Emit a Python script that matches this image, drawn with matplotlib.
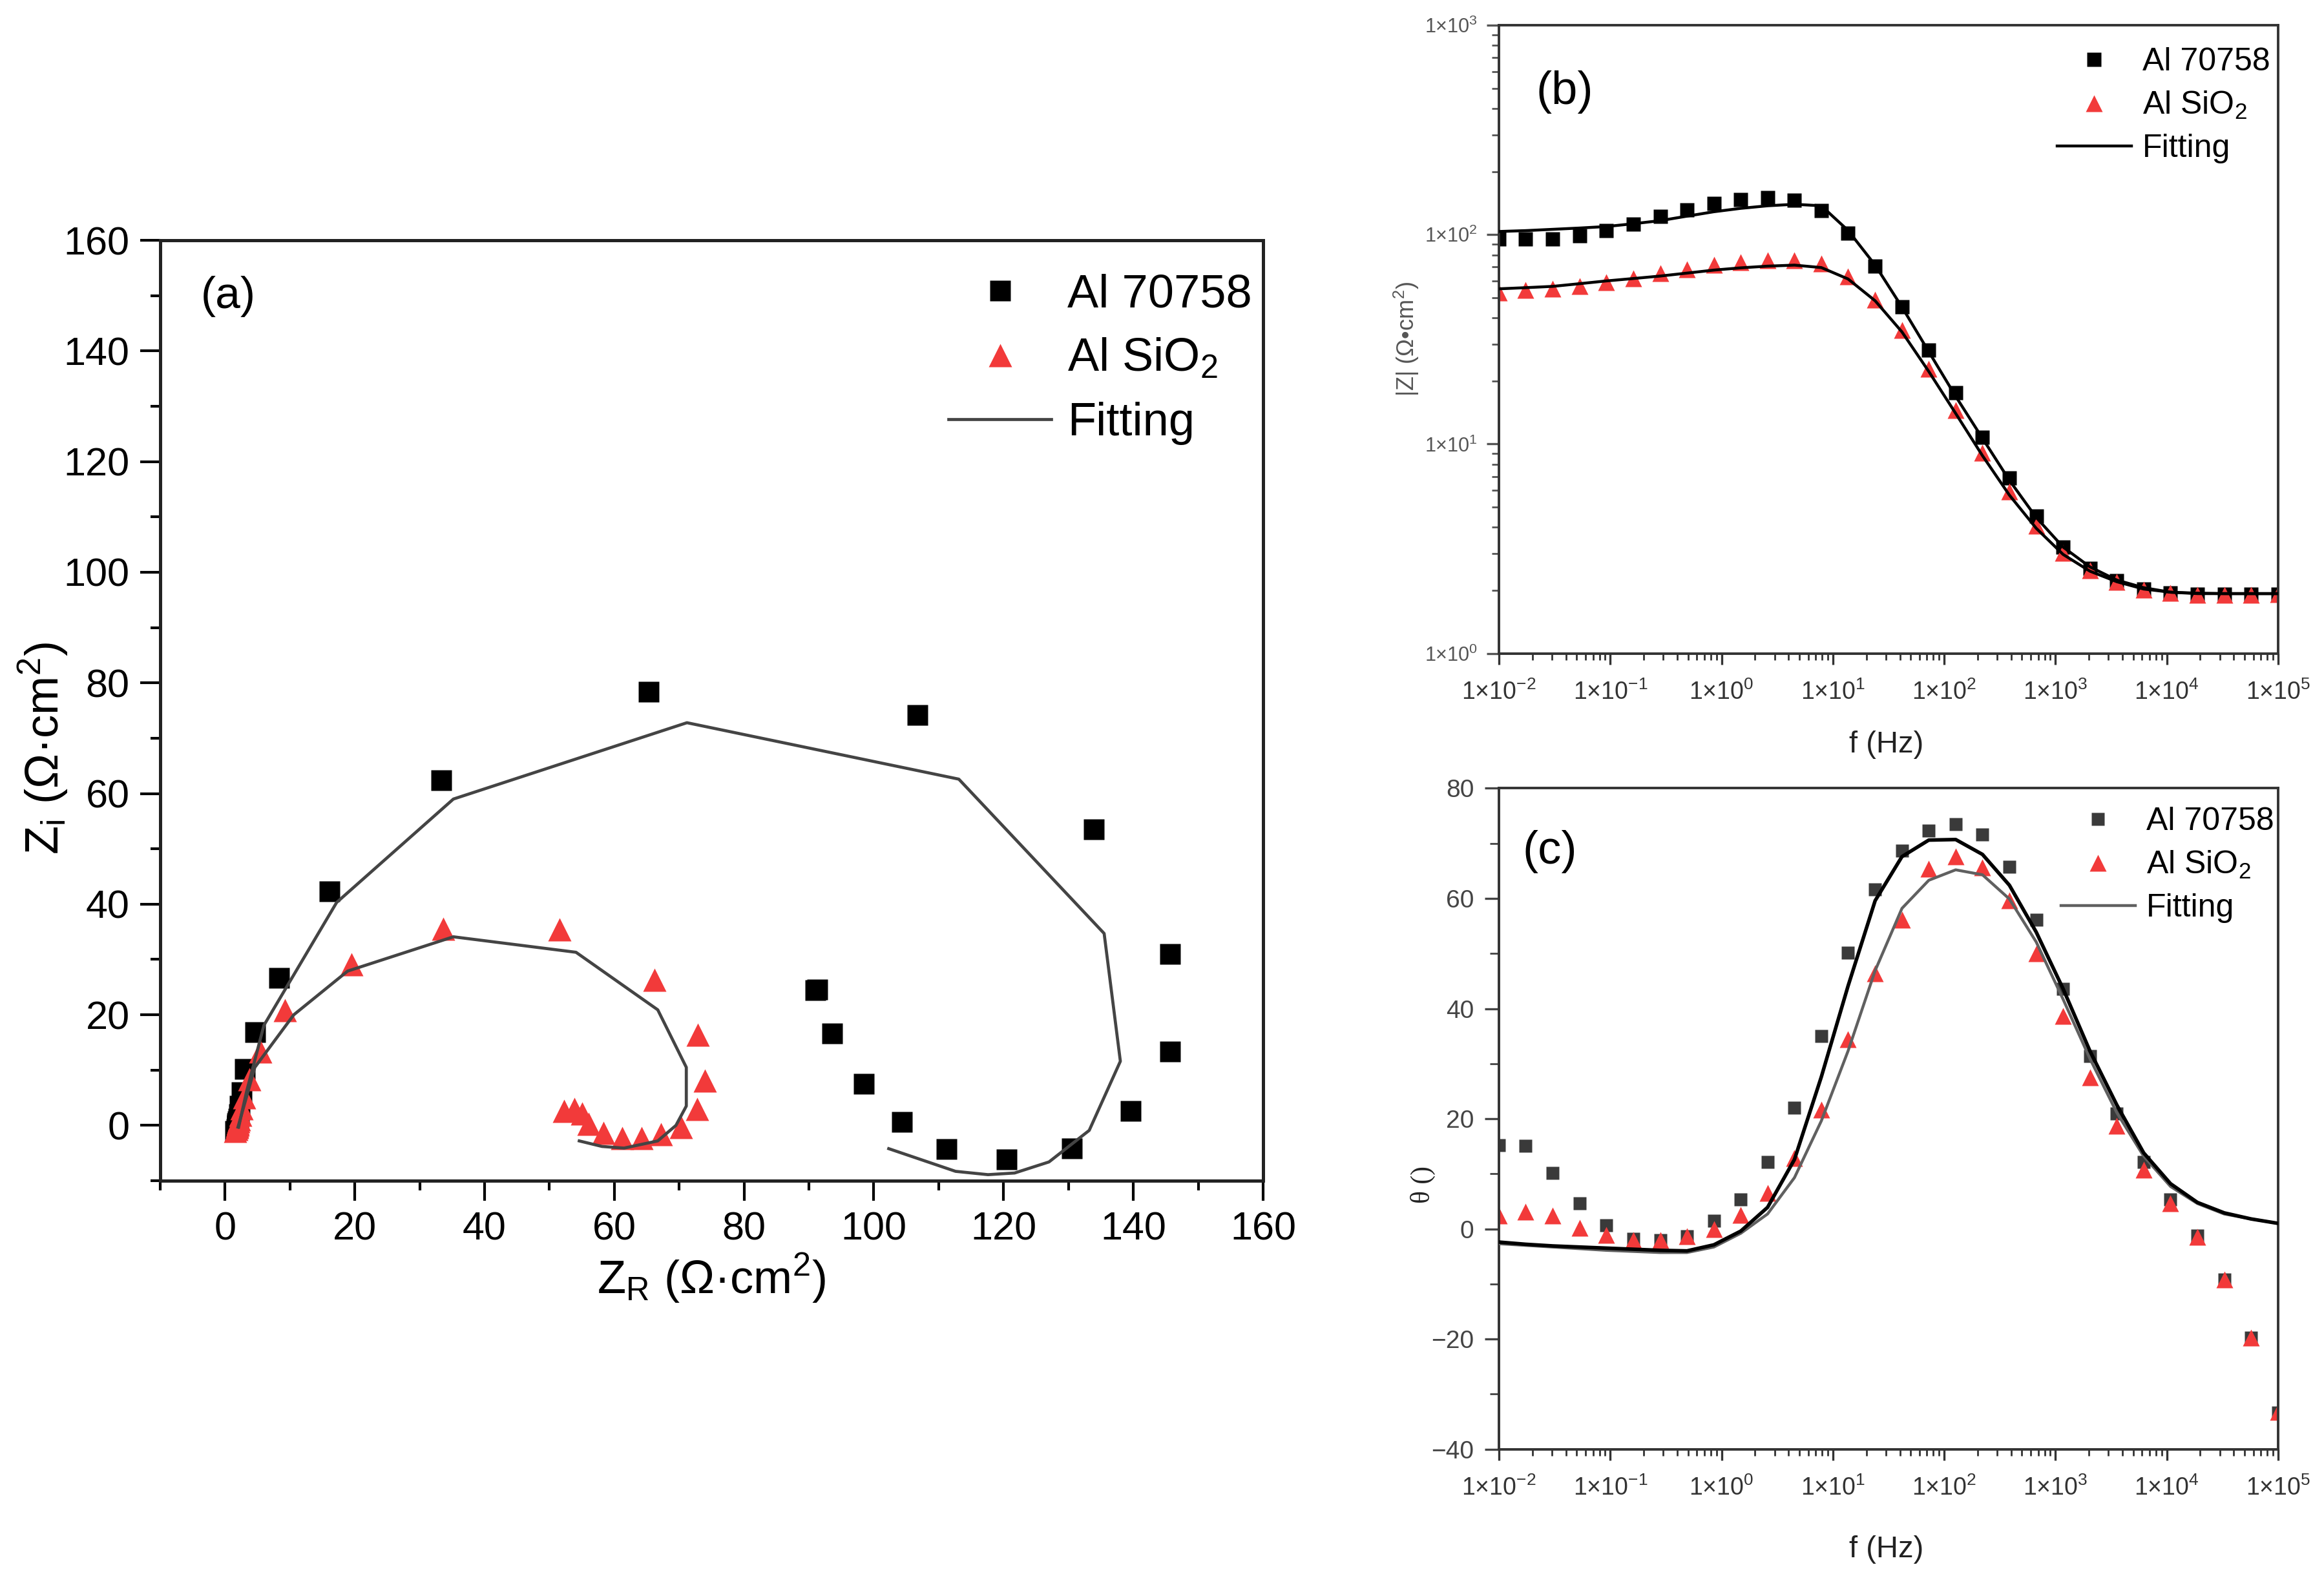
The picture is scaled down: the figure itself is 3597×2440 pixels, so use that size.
import numpy as np
import matplotlib.pyplot as plt
from matplotlib.ticker import MultipleLocator, LogLocator, FuncFormatter, NullFormatter

plt.rcParams['font.family'] = ['Liberation Sans', 'DejaVu Sans']
plt.rcParams['mathtext.fontset'] = 'custom'
plt.rcParams['mathtext.rm'] = 'Liberation Sans'
plt.rcParams['mathtext.it'] = 'Liberation Sans:italic'

# --- data ---
# frequencies (Hz), low -> high
freq = [0.01, 0.0174, 0.0304, 0.0530, 0.0924, 0.161, 0.281, 0.489, 0.853, 1.49,
        2.59, 4.52, 7.88, 13.7, 24.0, 41.8, 72.8, 127, 221, 386,
        672, 1172, 2043, 3562, 6210, 10826, 18874, 32903, 57362, 100000]

# (a) Nyquist, same order as freq
zr_7075 = [91.3, 91.0, 93.6, 98.5, 104.3, 111.2, 120.5, 130.5, 139.6, 145.7,
           145.7, 133.9, 106.7, 65.3, 33.3, 16.1, 8.3, 4.7, 3.1, 2.6,
           2.3, 2.2, 2.1, 2.0, 1.9, 1.9, 1.9, 1.9, 1.8, 1.6]
zi_7075 = [24.6, 24.4, 16.6, 7.5, 0.6, -4.3, -6.1, -4.2, 2.6, 13.4,
           31.0, 53.5, 74.2, 78.4, 62.4, 42.3, 26.7, 16.9, 10.2, 6.0,
           3.5, 2.0, 1.2, 0.7, 0.4, 0.1, -0.1, -0.3, -0.6, -1.0]
zr_sio2 = [52.3, 53.8, 55.0, 56.0, 58.3, 61.2, 64.2, 67.2, 70.3, 72.8,
           74.0, 72.9, 66.2, 51.6, 33.6, 19.5, 9.2, 5.5, 3.8, 3.0,
           2.6, 2.35, 2.2, 2.08, 2.0, 1.93, 1.9, 1.88, 1.79, 1.6]
zi_sio2 = [2.6, 3.0, 2.2, 0.3, -1.3, -2.3, -2.3, -1.6, -0.3, 3.0,
           8.1, 16.4, 26.3, 35.4, 35.6, 29.1, 20.8, 13.4, 8.3, 5.1,
           3.1, 1.9, 1.15, 0.7, 0.38, 0.15, -0.05, -0.3, -0.64, -1.05]

fit_zr_7075 = [2.1, 3.3, 6.0, 17.2, 35.2, 71.2, 113.1, 135.5, 138.0, 133.2, 127.0, 121.7, 117.6, 112.6, 102.3]
fit_zi_7075 = [-0.3, 6.0, 18.1, 40.3, 59.0, 72.8, 62.6, 34.7, 11.6, -0.9, -6.6, -8.6, -8.9, -8.3, -4.2]
fit_zr_sio2 = [2.0, 4.6, 10.6, 18.9, 35.2, 54.1, 66.7, 71.1, 71.1, 69.5, 66.7, 61.5, 58.1, 54.6]
fit_zi_sio2 = [-0.3, 10.5, 20.0, 27.9, 34.1, 31.3, 20.9, 10.5, 3.5, 0.0, -2.8, -4.1, -3.8, -2.8]

# (b) |Z| modulus
mod_7075 = [95.4, 95.0, 95.4, 99.0, 104.7, 112.3, 121.8, 131.5, 141.0, 146.6,
            149.8, 145.8, 130.1, 101.3, 70.7, 45.3, 28.1, 17.6, 10.8, 6.90,
            4.54, 3.22, 2.55, 2.22, 2.03, 1.95, 1.92, 1.92, 1.92, 1.92]
mod_sio2 = [53.0, 54.5, 55.1, 56.9, 59.1, 61.7, 65.2, 68.4, 71.5, 73.9,
            75.5, 75.5, 72.7, 63.1, 48.8, 34.9, 22.8, 14.5, 9.1, 5.95,
            4.07, 3.01, 2.49, 2.20, 2.02, 1.94, 1.90, 1.90, 1.90, 1.92]
fit_mod_7075 = [103.5, 104.5, 106.0, 107.5, 109.3, 112.7, 116.6, 122.5, 128.6, 133.5,
                137.3, 139.6, 137.3, 104.7, 71.5, 45.1, 27.6, 16.9, 10.65, 6.71,
                4.46, 3.22, 2.59, 2.24, 2.06, 1.96, 1.94, 1.93, 1.93, 1.93]
fit_mod_sio2 = [55.1, 55.8, 56.6, 58.3, 60.1, 61.7, 63.4, 65.5, 67.7, 69.4,
                70.7, 71.5, 69.6, 61.4, 48.3, 34.3, 22.2, 14.0, 8.8, 5.70,
                3.96, 2.97, 2.47, 2.20, 2.03, 1.96, 1.93, 1.93, 1.93, 1.93]

# (c) phase angle
ph_7075 = [15.2, 15.1, 10.2, 4.6, 0.6, -1.8, -2.0, -1.3, 1.5, 5.3,
           12.1, 22.0, 35.0, 50.1, 61.7, 68.7, 72.3, 73.5, 71.6, 65.7,
           56.1, 43.6, 31.4, 21.0, 12.1, 5.3, -1.2, -9.2, -19.8, -33.4]
ph_sio2 = [2.4, 3.1, 2.4, 0.2, -1.1, -2.0, -2.0, -1.3, 0.0, 2.5,
           6.5, 12.8, 21.7, 34.4, 46.4, 56.1, 65.4, 67.6, 65.6, 59.6,
           50.0, 38.6, 27.5, 18.7, 10.7, 4.6, -1.5, -9.2, -19.8, -33.3]
fit_ph_7075 = [-2.4, -2.8, -3.1, -3.3, -3.5, -3.7, -3.9, -4.0, -2.9, -0.4,
               3.9, 12.6, 27.6, 44.1, 59.6, 67.6, 70.6, 70.7, 68.0, 62.4,
               53.9, 43.6, 32.3, 22.5, 13.8, 8.2, 4.8, 2.9, 1.8, 1.0]
fit_ph_sio2 = [-2.7, -3.0, -3.3, -3.6, -3.9, -4.1, -4.3, -4.3, -3.3, -0.8,
               2.7, 9.3, 19.6, 32.3, 46.9, 58.2, 63.3, 65.2, 64.3, 59.9,
               52.1, 41.7, 30.9, 21.1, 13.2, 7.7, 4.6, 2.7, 1.8, 1.0]

red = '#f23a3a'

fig = plt.figure(figsize=(17.985, 12.2), dpi=200)

# ---------------- (a) Nyquist ----------------
ax = fig.add_axes([0.0689, 0.2508, 0.4746, 0.5967])
ax.plot(zr_7075, zi_7075, 's', color='black', ms=11.5, mec='none', label='Al 70758', zorder=2)
ax.plot(zr_sio2, zi_sio2, '^', color=red, ms=13, mec='none', label='Al SiO$_\\mathregular{2}$', zorder=2)
ax.plot(fit_zr_7075, fit_zi_7075, '-', color='#444444', lw=1.7, label='Fitting', zorder=3)
ax.plot(fit_zr_sio2, fit_zi_sio2, '-', color='#444444', lw=1.7, zorder=3)
ax.set_xlim(-10, 160)
ax.set_ylim(-10, 160)
ax.xaxis.set_major_locator(MultipleLocator(20))
ax.xaxis.set_minor_locator(MultipleLocator(10))
ax.yaxis.set_major_locator(MultipleLocator(20))
ax.yaxis.set_minor_locator(MultipleLocator(10))
ax.tick_params(which='major', direction='out', length=11, width=1.5, labelsize=22, pad=6)
ax.tick_params(which='minor', direction='out', length=5.5, width=1.5)
for s in ax.spines.values():
    s.set_linewidth(1.8)
    s.set_color('#222222')
ax.set_xlabel('Z$_\\mathregular{R}$ (Ω·cm$^\\mathregular{2}$)', fontsize=26)
ax.set_ylabel('Z$_\\mathregular{i}$ (Ω·cm$^\\mathregular{2}$)', fontsize=26)
ax.xaxis.set_label_coords(0.5, -0.075)
ax.yaxis.set_label_coords(-0.082, 0.46)
ax.text(0.037, 0.94, '(a)', transform=ax.transAxes, fontsize=25, ha='left', va='center')
ax.legend(loc='upper right', bbox_to_anchor=(0.99, 0.965), frameon=False, fontsize=26,
          handlelength=2.2, handletextpad=0.35, labelspacing=0.45, borderpad=0, borderaxespad=0)


def pow_fmt(v, pos):
    e = int(round(np.log10(v)))
    return '1×10$^{\\mathregular{%d}}$' % e


def style_bode(ax):
    ax.set_xscale('log')
    ax.set_xlim(1e-2, 1e5)
    ax.xaxis.set_major_locator(LogLocator(base=10, numticks=20))
    ax.xaxis.set_minor_locator(LogLocator(base=10, subs=np.arange(2, 10), numticks=20))
    ax.xaxis.set_major_formatter(FuncFormatter(pow_fmt))
    ax.xaxis.set_minor_formatter(NullFormatter())
    ax.tick_params(axis='x', which='major', direction='out', length=6, width=1.2,
                   labelsize=13.5, pad=9, colors='#333333')
    ax.tick_params(axis='x', which='minor', direction='out', length=3.5, width=1.0, colors='#333333')
    for s in ax.spines.values():
        s.set_linewidth(1.4)
        s.set_color('#333333')
    ax.set_xlabel('f (Hz)', fontsize=17, color='#222222')


# ---------------- (b) |Z| ----------------
bx = fig.add_axes([0.645, 0.5854, 0.3352, 0.3986])
bx.plot(freq, mod_7075, 's', color='black', ms=8.2, mec='none', label='Al 70758', zorder=2)
bx.plot(freq, mod_sio2, '^', color=red, ms=9.5, mec='none', label='Al SiO$_\\mathregular{2}$', zorder=2)
bx.plot(freq, fit_mod_7075, '-', color='black', lw=1.6, label='Fitting', zorder=3)
bx.plot(freq, fit_mod_sio2, '-', color='black', lw=1.6, zorder=3)
style_bode(bx)
bx.set_yscale('log')
bx.set_ylim(1, 1000)
bx.yaxis.set_major_locator(LogLocator(base=10, numticks=10))
bx.yaxis.set_minor_locator(LogLocator(base=10, subs=np.arange(2, 10), numticks=10))
bx.yaxis.set_major_formatter(FuncFormatter(pow_fmt))
bx.yaxis.set_minor_formatter(NullFormatter())
bx.tick_params(axis='y', which='major', direction='out', length=7, width=1.2,
               labelsize=11, pad=5, colors='#555555')
bx.tick_params(axis='y', which='minor', direction='out', length=4, width=1.0, colors='#555555')
bx.set_ylabel('|Z| (Ω•cm$^\\mathregular{2}$)', fontsize=13, color='#555555')
bx.xaxis.set_label_coords(0.497, -0.123)
bx.yaxis.set_label_coords(-0.10, 0.5)
bx.text(0.048, 0.894, '(b)', transform=bx.transAxes, fontsize=26, ha='left', va='center')
bx.legend(loc='upper right', bbox_to_anchor=(0.99, 0.965), frameon=False, fontsize=18,
          handlelength=2.3, handletextpad=0.35, labelspacing=0.4, borderpad=0, borderaxespad=0)

# ---------------- (c) phase ----------------
cx = fig.add_axes([0.645, 0.0805, 0.3352, 0.4193])
cx.plot(freq, ph_7075, 's', color='#3a3a3a', ms=7.5, mec='none', label='Al 70758', zorder=2)
cx.plot(freq, ph_sio2, '^', color=red, ms=9.5, mec='none', label='Al SiO$_\\mathregular{2}$', zorder=2)
cx.plot(freq, fit_ph_sio2, '-', color='#606060', lw=1.6, label='Fitting', zorder=3)
cx.plot(freq, fit_ph_7075, '-', color='black', lw=2.0, zorder=3)
style_bode(cx)
cx.set_ylim(-40, 80)
cx.yaxis.set_major_locator(MultipleLocator(20))
cx.yaxis.set_minor_locator(MultipleLocator(10))
cx.tick_params(axis='y', which='major', direction='out', length=8, width=1.2,
               labelsize=14, pad=6, colors='#444444')
cx.tick_params(axis='y', which='minor', direction='out', length=5, width=1.0, colors='#444444')
cx.set_ylabel('θ ()', fontsize=15, family=['Liberation Serif', 'DejaVu Serif'], color='#222222')
cx.xaxis.set_label_coords(0.497, -0.130)
cx.yaxis.set_label_coords(-0.081, 0.40)
cx.text(0.03, 0.904, '(c)', transform=cx.transAxes, fontsize=26, ha='left', va='center')
cx.legend(loc='upper right', bbox_to_anchor=(0.995, 0.972), frameon=False, fontsize=18,
          handlelength=2.3, handletextpad=0.35, labelspacing=0.4, borderpad=0, borderaxespad=0)

fig.savefig('out.png', dpi=200)
